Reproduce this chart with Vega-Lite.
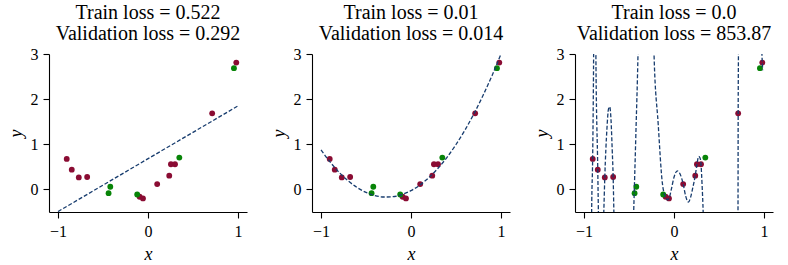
{
  "$schema": "https://vega.github.io/schema/vega-lite/v6.json",
  "autosize": {"type": "pad"},
  "padding": {"left": 7, "top": 3, "right": 5, "bottom": 3},
  "background": "white",
  "bounds": "flush",
  "spacing": 65,
  "config": {
    "view": {"stroke": null},
    "font": "Liberation Serif",
    "axis": {
      "grid": false,
      "domainColor": "black",
      "domainWidth": 1.1,
      "tickColor": "black",
      "tickWidth": 1.1,
      "tickSize": 6,
      "labelFont": "Liberation Serif",
      "labelFontSize": 16,
      "labelColor": "black",
      "labelPadding": 5,
      "titleFont": "Liberation Serif",
      "titleFontStyle": "italic",
      "titleFontWeight": "normal",
      "titleFontSize": 18,
      "titleColor": "black"
    },
    "title": {
      "font": "Liberation Serif",
      "fontSize": 20,
      "fontWeight": "normal",
      "color": "black",
      "anchor": "middle",
      "offset": 2,
      "lineHeight": 21
    }
  },
  "datasets": {
    "pts": [
      {"x": -0.903, "y": 0.676, "set": "train"},
      {"x": -0.847, "y": 0.438, "set": "train"},
      {"x": -0.769, "y": 0.267, "set": "train"},
      {"x": -0.676, "y": 0.275, "set": "train"},
      {"x": -0.093, "y": -0.163, "set": "train"},
      {"x": -0.056, "y": -0.2, "set": "train"},
      {"x": 0.102, "y": 0.119, "set": "train"},
      {"x": 0.236, "y": 0.304, "set": "train"},
      {"x": 0.255, "y": 0.557, "set": "train"},
      {"x": 0.3, "y": 0.557, "set": "train"},
      {"x": 0.713, "y": 1.685, "set": "train"},
      {"x": 0.981, "y": 2.81, "set": "train"},
      {"x": -0.438, "y": -0.082, "set": "val"},
      {"x": -0.419, "y": 0.059, "set": "val"},
      {"x": -0.12, "y": -0.113, "set": "val"},
      {"x": 0.348, "y": 0.705, "set": "val"},
      {"x": 0.955, "y": 2.687, "set": "val"}
    ],
    "fit": [
      {"x": -1.0, "y": -0.49, "model": "d1"},
      {"x": 1.0, "y": 1.85, "model": "d1"},
      {"x": -1.0, "y": 0.877, "model": "d2"},
      {"x": -0.9, "y": 0.61, "model": "d2"},
      {"x": -0.8, "y": 0.382, "model": "d2"},
      {"x": -0.7, "y": 0.193, "model": "d2"},
      {"x": -0.6, "y": 0.044, "model": "d2"},
      {"x": -0.5, "y": -0.066, "model": "d2"},
      {"x": -0.4, "y": -0.137, "model": "d2"},
      {"x": -0.3, "y": -0.168, "model": "d2"},
      {"x": -0.2, "y": -0.161, "model": "d2"},
      {"x": -0.1, "y": -0.113, "model": "d2"},
      {"x": 0.0, "y": -0.027, "model": "d2"},
      {"x": 0.1, "y": 0.099, "model": "d2"},
      {"x": 0.2, "y": 0.264, "model": "d2"},
      {"x": 0.3, "y": 0.468, "model": "d2"},
      {"x": 0.4, "y": 0.711, "model": "d2"},
      {"x": 0.5, "y": 0.995, "model": "d2"},
      {"x": 0.6, "y": 1.317, "model": "d2"},
      {"x": 0.7, "y": 1.679, "model": "d2"},
      {"x": 0.8, "y": 2.08, "model": "d2"},
      {"x": 0.9, "y": 2.52, "model": "d2"},
      {"x": 1.0, "y": 2.999, "model": "d2"},
      {"x": -1.0, "y": -40, "model": "d15"},
      {"x": -0.93, "y": -6, "model": "d15"},
      {"x": -0.915, "y": -0.5, "model": "d15"},
      {"x": -0.904, "y": 0.676, "model": "d15"},
      {"x": -0.893, "y": 3.0, "model": "d15"},
      {"x": -0.885, "y": 6, "model": "d15"},
      {"x": -0.875, "y": 6, "model": "d15"},
      {"x": -0.868, "y": 3.0, "model": "d15"},
      {"x": -0.847, "y": 0.438, "model": "d15"},
      {"x": -0.84, "y": -0.5, "model": "d15"},
      {"x": -0.81, "y": -2.5, "model": "d15"},
      {"x": -0.78, "y": -0.5, "model": "d15"},
      {"x": -0.769, "y": 0.267, "model": "d15"},
      {"x": -0.745, "y": 1.35, "model": "d15"},
      {"x": -0.728, "y": 1.78, "model": "d15"},
      {"x": -0.714, "y": 1.83, "model": "d15"},
      {"x": -0.7, "y": 1.55, "model": "d15"},
      {"x": -0.687, "y": 0.9, "model": "d15"},
      {"x": -0.676, "y": 0.275, "model": "d15"},
      {"x": -0.668, "y": -0.5, "model": "d15"},
      {"x": -0.6, "y": -4, "model": "d15"},
      {"x": -0.5, "y": -4, "model": "d15"},
      {"x": -0.448, "y": -0.5, "model": "d15"},
      {"x": -0.424, "y": 1.2, "model": "d15"},
      {"x": -0.4, "y": 3.0, "model": "d15"},
      {"x": -0.36, "y": 8, "model": "d15"},
      {"x": -0.26, "y": 8, "model": "d15"},
      {"x": -0.222, "y": 3.0, "model": "d15"},
      {"x": -0.176, "y": 1.46, "model": "d15"},
      {"x": -0.13, "y": 0.15, "model": "d15"},
      {"x": -0.105, "y": -0.12, "model": "d15"},
      {"x": -0.093, "y": -0.17, "model": "d15"},
      {"x": -0.075, "y": -0.23, "model": "d15"},
      {"x": -0.056, "y": -0.2, "model": "d15"},
      {"x": -0.03, "y": 0.0, "model": "d15"},
      {"x": 0.0, "y": 0.27, "model": "d15"},
      {"x": 0.037, "y": 0.41, "model": "d15"},
      {"x": 0.07, "y": 0.33, "model": "d15"},
      {"x": 0.102, "y": 0.119, "model": "d15"},
      {"x": 0.13, "y": -0.15, "model": "d15"},
      {"x": 0.16, "y": -0.28, "model": "d15"},
      {"x": 0.185, "y": -0.17, "model": "d15"},
      {"x": 0.21, "y": 0.05, "model": "d15"},
      {"x": 0.236, "y": 0.304, "model": "d15"},
      {"x": 0.255, "y": 0.557, "model": "d15"},
      {"x": 0.274, "y": 0.73, "model": "d15"},
      {"x": 0.288, "y": 0.7, "model": "d15"},
      {"x": 0.3, "y": 0.557, "model": "d15"},
      {"x": 0.312, "y": 0.1, "model": "d15"},
      {"x": 0.324, "y": -0.5, "model": "d15"},
      {"x": 0.36, "y": -5, "model": "d15"},
      {"x": 0.5, "y": -8, "model": "d15"},
      {"x": 0.67, "y": -5, "model": "d15"},
      {"x": 0.711, "y": -0.5, "model": "d15"},
      {"x": 0.713, "y": 1.685, "model": "d15"},
      {"x": 0.716, "y": 3.0, "model": "d15"},
      {"x": 0.74, "y": 8, "model": "d15"},
      {"x": 0.95, "y": 8, "model": "d15"},
      {"x": 0.977, "y": 3.0, "model": "d15"},
      {"x": 0.981, "y": 2.81, "model": "d15"},
      {"x": 0.985, "y": 2.64, "model": "d15"}
    ]
  },
  "hconcat": [
    {
      "width": 198,
      "height": 158,
      "title": {"text": ["Train loss = 0.522", "Validation loss = 0.292"]},
      "layer": [
        {
          "data": {"name": "pts"},
          "mark": {"type": "circle", "size": 34, "opacity": 1},
          "encoding": {
            "x": {"field": "x", "type": "quantitative", "scale": {"domain": [-1.1, 1.1], "nice": false, "zero": false}, "axis": {"values": [-1, 0, 1], "format": "d", "title": "x", "titlePadding": 6}},
            "y": {"field": "y", "type": "quantitative", "scale": {"domain": [-0.5, 3], "nice": false, "zero": false}, "axis": {"values": [0, 1, 2, 3], "format": "d", "title": "y", "titlePadding": 5}},
            "color": {"field": "set", "type": "nominal", "scale": {"domain": ["train", "val"], "range": ["#8a0c33", "#078407"]}, "legend": null},
            "order": {"field": "set", "sort": "ascending"}
          }
        },
        {
          "data": {"name": "fit"},
          "transform": [{"filter": "datum.model === 'd1'"}],
          "mark": {"type": "line", "clip": true, "color": "#173c6e", "strokeWidth": 1.3, "strokeDash": [4, 2]},
          "encoding": {
            "x": {"field": "x", "type": "quantitative"},
            "y": {"field": "y", "type": "quantitative"}
          }
        }
      ]
    },
    {
      "width": 198,
      "height": 158,
      "title": {"text": ["Train loss = 0.01", "Validation loss = 0.014"]},
      "layer": [
        {
          "data": {"name": "pts"},
          "mark": {"type": "circle", "size": 34, "opacity": 1},
          "encoding": {
            "x": {"field": "x", "type": "quantitative", "scale": {"domain": [-1.1, 1.1], "nice": false, "zero": false}, "axis": {"values": [-1, 0, 1], "format": "d", "title": "x", "titlePadding": 6}},
            "y": {"field": "y", "type": "quantitative", "scale": {"domain": [-0.5, 3], "nice": false, "zero": false}, "axis": {"values": [0, 1, 2, 3], "format": "d", "title": "y", "titlePadding": 5}},
            "color": {"field": "set", "type": "nominal", "scale": {"domain": ["train", "val"], "range": ["#8a0c33", "#078407"]}, "legend": null},
            "order": {"field": "set", "sort": "ascending"}
          }
        },
        {
          "data": {"name": "fit"},
          "transform": [{"filter": "datum.model === 'd2'"}],
          "mark": {"type": "line", "clip": true, "interpolate": "monotone", "color": "#173c6e", "strokeWidth": 1.3, "strokeDash": [4, 2]},
          "encoding": {
            "x": {"field": "x", "type": "quantitative"},
            "y": {"field": "y", "type": "quantitative"}
          }
        }
      ]
    },
    {
      "width": 198,
      "height": 158,
      "title": {"text": ["Train loss = 0.0", "Validation loss = 853.87"]},
      "layer": [
        {
          "data": {"name": "pts"},
          "mark": {"type": "circle", "size": 34, "opacity": 1},
          "encoding": {
            "x": {"field": "x", "type": "quantitative", "scale": {"domain": [-1.1, 1.1], "nice": false, "zero": false}, "axis": {"values": [-1, 0, 1], "format": "d", "title": "x", "titlePadding": 6}},
            "y": {"field": "y", "type": "quantitative", "scale": {"domain": [-0.5, 3], "nice": false, "zero": false}, "axis": {"values": [0, 1, 2, 3], "format": "d", "title": "y", "titlePadding": 5}},
            "color": {"field": "set", "type": "nominal", "scale": {"domain": ["train", "val"], "range": ["#8a0c33", "#078407"]}, "legend": null},
            "order": {"field": "set", "sort": "ascending"}
          }
        },
        {
          "data": {"name": "fit"},
          "transform": [{"filter": "datum.model === 'd15'"}],
          "mark": {"type": "line", "clip": true, "interpolate": "monotone", "color": "#173c6e", "strokeWidth": 1.3, "strokeDash": [4, 2]},
          "encoding": {
            "x": {"field": "x", "type": "quantitative"},
            "y": {"field": "y", "type": "quantitative"}
          }
        }
      ]
    }
  ]
}
